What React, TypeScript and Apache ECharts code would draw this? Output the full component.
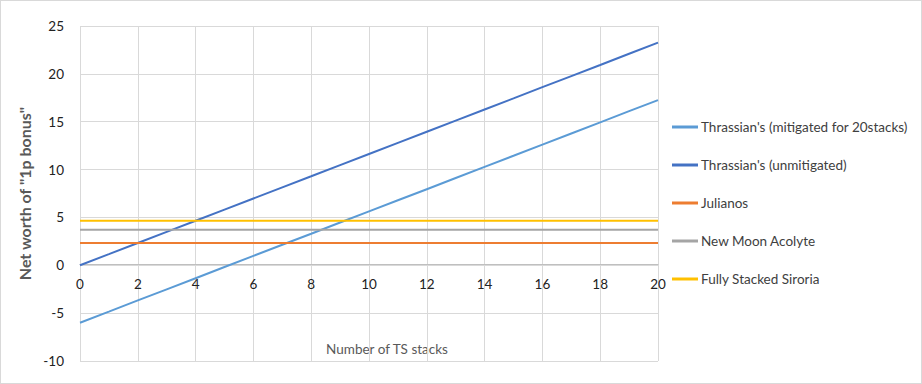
import React, { useEffect, useRef } from "react";
import * as echarts from "echarts";

const stacks = [0, 1, 2, 3, 4, 5, 6, 7, 8, 9, 10, 11, 12, 13, 14, 15, 16, 17, 18, 19, 20];
const mitigated = [-6, -4.84, -3.67, -2.51, -1.35, -0.18, 0.98, 2.14, 3.3, 4.47, 5.63, 6.79, 7.95, 9.12, 10.28, 11.44, 12.61, 13.77, 14.93, 16.1, 17.26];
const unmitigated = [0, 1.16, 2.33, 3.49, 4.65, 5.82, 6.98, 8.14, 9.3, 10.47, 11.63, 12.79, 13.95, 15.12, 16.28, 17.44, 18.61, 19.77, 20.93, 22.1, 23.26];
const julianos = 2.33;
const newMoon = 3.7;
const siroria = 4.65;
const seriesNames = [
  "Thrassian's (mitigated for 20stacks)",
  "Thrassian's (unmitigated)",
  "Julianos",
  "New Moon Acolyte",
  "Fully Stacked Siroria",
];
const xTitle = "Number of TS stacks";
const yTitle = 'Net worth of "1p bonus"';
const colors = ["#5B9BD5", "#4472C4", "#ED7D31", "#A5A5A5", "#FFC000"];
const yMin = -10;
const yMax = 25;

export default function App() {
  const ref = useRef<HTMLDivElement>(null);
  useEffect(() => {
    document.body.style.margin = "0";
    const chart = echarts.init(ref.current!, null, { renderer: "svg" });
    const pair = (ys: number[]) => stacks.map((x, i) => [x, ys[i]]);
    const flat = (v: number) => stacks.map((x) => [x, v]);
    const datas = [pair(mitigated), pair(unmitigated), flat(julianos), flat(newMoon), flat(siroria)];
    const font = "Lato, 'Open Sans', sans-serif";
    const top = 25;
    const bottom = 22;
    const plotH = 384 - top - bottom;
    const zeroOffset = (plotH * (0 - yMin)) / (yMax - yMin);
    chart.setOption({
      animation: false,
      textStyle: { fontFamily: font },
      color: colors,
      grid: { left: 79, right: 263, top, bottom, containLabel: false, outerBoundsMode: "none" },
      legend: {
        orient: "vertical",
        left: 671,
        top: 119,
        padding: 0,
        icon: "rect",
        itemWidth: 26,
        itemHeight: 3,
        itemGap: 24,
        textStyle: { fontFamily: font, fontSize: 13.5, color: "#404040", padding: [0, 0, 0, -2] },
        data: seriesNames,
      },
      graphic: [
        {
          type: "text",
          x: 386,
          y: 348,
          style: {
            text: xTitle,
            fontFamily: font,
            fontSize: 13.5,
            fill: "#595959",
            align: "center",
            verticalAlign: "middle",
          },
        },
      ],
      xAxis: {
        type: "value",
        position: "bottom",
        offset: -zeroOffset,
        min: 0,
        max: 20,
        interval: 2,
        axisLine: { onZero: false, lineStyle: { color: "#bfbfbf" } },
        axisTick: { show: false },
        axisLabel: { fontFamily: font, fontSize: 13.5, color: "#222", margin: 12 },
        splitLine: { show: true, lineStyle: { color: "#d9d9d9" } },
      },
      yAxis: {
        type: "value",
        min: yMin,
        max: yMax,
        interval: 5,
        name: yTitle,
        nameLocation: "middle",
        nameGap: 45,
        nameTextStyle: { fontFamily: font, fontSize: 16, fontWeight: "bold", color: "#595959" },
        axisLine: { show: false },
        axisTick: { show: false },
        axisLabel: { fontFamily: font, fontSize: 13.5, color: "#222", margin: 16 },
        splitLine: { show: true, lineStyle: { color: "#d9d9d9" } },
      },
      series: seriesNames.map((n, i) => ({
        name: n,
        type: "line",
        data: datas[i],
        symbol: "none",
        lineStyle: { width: 2, color: colors[i] },
        itemStyle: { color: colors[i] },
      })),
    });
    return () => chart.dispose();
  }, []);
  return (
    <div
      ref={ref}
      style={{ width: 922, height: 384, boxSizing: "border-box", border: "1px solid #d9d9d9", background: "#fff" }}
    />
  );
}
